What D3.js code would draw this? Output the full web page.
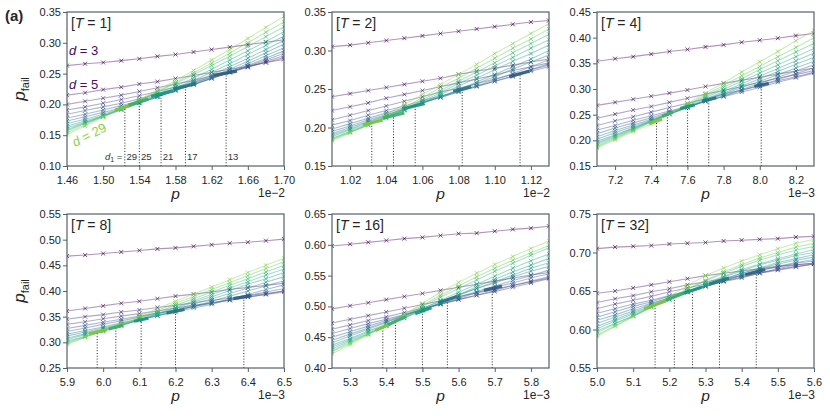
<!DOCTYPE html>
<html>
<head>
<meta charset="utf-8">
<script src="https://cdn.jsdelivr.net/npm/d3@7"></script>
<style>
  html, body { margin: 0; padding: 0; background: #fff; }
  svg { display: block; }
</style>
</head>
<body>
<svg id="chart" width="830" height="416"></svg>
<script>
// ── Data ─────────────────────────────────────────────────────────────────────
// Code distances (one curve each) and the six round counts T
const D_VALUES  = [3, 5, 7, 9, 11, 13, 15, 17, 19, 21, 23, 25, 27, 29];
const T_VALUES  = [1, 2, 4, 8, 16, 32];
const D1_VALUES = [29, 25, 21, 17, 13];

// Physical error rate p sampled per panel
const pGridT1  = [0.0146, 0.0148, 0.0150, 0.0152, 0.0154, 0.0156, 0.0158, 0.0160, 0.0162, 0.0164, 0.0166, 0.0168, 0.0170];
const pGridT2  = [0.0101, 0.0102, 0.0103, 0.0104, 0.0105, 0.0106, 0.0107, 0.0108, 0.0109, 0.0110, 0.0111, 0.0112, 0.0113];
const pGridT4  = [0.0071, 0.0072, 0.0073, 0.0074, 0.0075, 0.0076, 0.0077, 0.0078, 0.0079, 0.0080, 0.0081, 0.0082, 0.0083];
const pGridT8  = [0.00590, 0.00595, 0.00600, 0.00605, 0.00610, 0.00615, 0.00620, 0.00625, 0.00630, 0.00635, 0.00640, 0.00645, 0.00650];
const pGridT16 = [0.00525, 0.00530, 0.00535, 0.00540, 0.00545, 0.00550, 0.00555, 0.00560, 0.00565, 0.00570, 0.00575, 0.00580, 0.00585];
const pGridT32 = [0.00500, 0.00505, 0.00510, 0.00515, 0.00520, 0.00525, 0.00530, 0.00535, 0.00540, 0.00545, 0.00550, 0.00555, 0.00560];

// p_fail, one row per distance in D_VALUES order
const failT1 = [
  [.263, .266, .268, .271, .274, .278, .281, .285, .289, .293, .297, .301, .305],
  [.215, .219, .224, .228, .233, .237, .242, .247, .252, .257, .262, .268, .273],
  [.200, .205, .210, .215, .221, .227, .233, .239, .246, .253, .261, .268, .276],
  [.191, .196, .202, .208, .214, .221, .228, .236, .244, .252, .260, .270, .279],
  [.184, .190, .196, .202, .209, .217, .225, .233, .242, .252, .262, .272, .283],
  [.178, .184, .191, .198, .205, .214, .223, .232, .242, .252, .263, .275, .287],
  [.173, .180, .187, .194, .203, .212, .222, .232, .243, .254, .266, .279, .292],
  [.169, .176, .184, .193, .202, .212, .223, .234, .245, .257, .270, .284, .298],
  [.165, .173, .182, .191, .202, .212, .224, .236, .248, .261, .275, .289, .304],
  [.162, .171, .181, .192, .203, .214, .227, .239, .252, .266, .281, .296, .311],
  [.159, .170, .180, .192, .204, .217, .230, .243, .257, .272, .287, .302, .318],
  [.157, .169, .181, .193, .206, .220, .234, .248, .263, .278, .294, .310, .326],
  [.154, .167, .180, .193, .207, .221, .236, .251, .267, .283, .300, .317, .334],
  [.151, .165, .179, .193, .208, .223, .239, .255, .272, .289, .307, .325, .343]
];
const failT2 = [
  [.305, .307, .310, .313, .316, .319, .322, .325, .328, .331, .334, .337, .339],
  [.240, .244, .248, .252, .256, .260, .264, .269, .273, .277, .281, .285, .289],
  [.222, .227, .232, .238, .243, .248, .253, .258, .263, .268, .274, .279, .284],
  [.210, .216, .222, .228, .234, .240, .246, .251, .257, .263, .269, .275, .281],
  [.203, .209, .216, .222, .228, .235, .241, .247, .254, .260, .266, .273, .279],
  [.198, .205, .212, .219, .226, .233, .239, .246, .253, .260, .267, .275, .283],
  [.195, .202, .210, .217, .224, .232, .239, .247, .254, .262, .270, .279, .288],
  [.192, .200, .208, .216, .224, .232, .240, .248, .257, .266, .276, .285, .294],
  [.190, .198, .207, .215, .223, .232, .240, .249, .259, .269, .279, .289, .300],
  [.188, .197, .205, .214, .223, .232, .243, .254, .264, .275, .286, .296, .307],
  [.186, .195, .204, .213, .222, .234, .245, .257, .268, .280, .291, .303, .314],
  [.185, .194, .203, .212, .223, .236, .248, .260, .272, .284, .297, .309, .321],
  [.184, .194, .203, .214, .226, .239, .252, .264, .277, .290, .303, .315, .328],
  [.182, .193, .204, .217, .230, .243, .256, .269, .282, .296, .309, .322, .335]
];
const failT4 = [
  [.354, .359, .363, .368, .373, .377, .382, .386, .391, .395, .399, .404, .408],
  [.268, .274, .280, .286, .292, .298, .305, .311, .317, .323, .329, .335, .341],
  [.243, .251, .259, .266, .274, .282, .290, .297, .305, .313, .321, .328, .336],
  [.229, .238, .246, .255, .264, .272, .281, .290, .298, .307, .316, .324, .333],
  [.220, .229, .239, .248, .257, .266, .276, .285, .294, .303, .313, .322, .331],
  [.213, .224, .234, .244, .255, .265, .276, .286, .297, .307, .318, .330, .341],
  [.207, .219, .230, .241, .253, .264, .276, .287, .299, .311, .323, .335, .347],
  [.202, .215, .227, .239, .252, .264, .277, .290, .303, .315, .328, .341, .354],
  [.198, .211, .224, .238, .251, .264, .278, .292, .306, .320, .334, .348, .362],
  [.195, .209, .223, .237, .251, .265, .280, .295, .310, .325, .340, .355, .370],
  [.192, .207, .222, .237, .251, .267, .283, .299, .315, .331, .347, .363, .379],
  [.189, .205, .220, .236, .252, .269, .286, .303, .320, .338, .355, .372, .389],
  [.187, .203, .219, .235, .251, .270, .289, .307, .326, .344, .363, .381, .400],
  [.185, .201, .217, .232, .251, .272, .292, .312, .333, .353, .373, .394, .414]
];
const failT8 = [
  [.468, .470, .473, .476, .479, .482, .484, .487, .490, .493, .495, .498, .501],
  [.361, .366, .371, .376, .380, .385, .390, .394, .398, .403, .407, .411, .415],
  [.345, .350, .354, .359, .363, .368, .372, .377, .382, .386, .391, .395, .400],
  [.335, .340, .346, .351, .356, .361, .367, .372, .377, .382, .388, .393, .398],
  [.327, .333, .339, .345, .351, .357, .363, .370, .376, .382, .388, .394, .400],
  [.321, .328, .335, .342, .349, .356, .363, .370, .377, .384, .391, .398, .405],
  [.316, .323, .330, .338, .345, .352, .359, .367, .374, .384, .393, .403, .412],
  [.312, .320, .328, .336, .344, .352, .360, .370, .380, .390, .400, .410, .420],
  [.308, .317, .326, .334, .343, .352, .363, .374, .385, .395, .406, .417, .428],
  [.305, .315, .324, .334, .343, .355, .366, .378, .389, .401, .413, .424, .436],
  [.302, .312, .322, .332, .344, .356, .368, .381, .393, .406, .418, .431, .443],
  [.300, .311, .321, .333, .346, .359, .372, .385, .398, .411, .424, .437, .450],
  [.298, .310, .322, .335, .349, .362, .376, .389, .403, .416, .430, .444, .457],
  [.296, .310, .324, .338, .352, .366, .380, .394, .408, .422, .436, .450, .464]
];
const failT16 = [
  [.598, .601, .604, .607, .610, .612, .615, .618, .619, .622, .625, .627, .630],
  [.496, .501, .506, .511, .516, .521, .526, .531, .536, .541, .546, .551, .555],
  [.473, .479, .485, .491, .497, .503, .509, .516, .522, .528, .534, .540, .546],
  [.463, .470, .477, .483, .490, .497, .504, .511, .518, .524, .531, .538, .545],
  [.456, .464, .472, .479, .487, .495, .503, .511, .518, .526, .534, .541, .548],
  [.450, .459, .468, .477, .486, .495, .504, .513, .522, .531, .538, .546, .553],
  [.445, .455, .465, .475, .485, .495, .505, .515, .524, .533, .542, .550, .559],
  [.441, .452, .463, .474, .485, .497, .508, .519, .529, .538, .548, .557, .565],
  [.437, .448, .460, .471, .483, .494, .506, .518, .529, .540, .551, .562, .571],
  [.434, .446, .458, .469, .481, .493, .506, .519, .532, .544, .556, .567, .578],
  [.431, .444, .456, .468, .481, .496, .510, .523, .536, .549, .562, .574, .585],
  [.428, .442, .455, .469, .485, .500, .515, .529, .543, .557, .570, .583, .595],
  [.426, .440, .455, .469, .486, .502, .518, .533, .548, .562, .575, .587, .599],
  [.423, .438, .453, .469, .487, .505, .523, .539, .554, .568, .581, .594, .606]
];
const failT32 = [
  [.705, .707, .708, .709, .711, .712, .713, .715, .716, .717, .718, .720, .721],
  [.647, .650, .654, .658, .662, .666, .670, .673, .676, .679, .682, .684, .686],
  [.635, .640, .644, .649, .653, .658, .662, .666, .670, .674, .678, .682, .685],
  [.627, .633, .638, .643, .649, .654, .659, .663, .668, .673, .677, .681, .685],
  [.621, .627, .633, .638, .644, .650, .656, .662, .667, .673, .679, .684, .686],
  [.616, .623, .630, .636, .643, .650, .656, .663, .670, .677, .681, .686, .689],
  [.612, .619, .627, .634, .641, .649, .656, .663, .671, .677, .682, .687, .691],
  [.608, .616, .624, .633, .641, .649, .657, .665, .673, .679, .685, .690, .694],
  [.604, .613, .622, .631, .639, .648, .657, .666, .673, .680, .687, .692, .697],
  [.601, .611, .620, .630, .639, .649, .658, .668, .676, .684, .690, .696, .700],
  [.598, .608, .618, .629, .639, .649, .660, .669, .678, .685, .692, .698, .704],
  [.596, .607, .618, .629, .640, .652, .663, .673, .682, .690, .697, .703, .708],
  [.593, .605, .617, .629, .641, .653, .664, .675, .684, .693, .700, .707, .712],
  [.591, .604, .617, .629, .643, .657, .670, .680, .689, .697, .705, .712, .717]
];

// Crossing estimates (dotted drop lines), ordered as D1_VALUES
const crossPT1  = [0.01524, 0.01540, 0.01564, 0.01591, 0.01636];
const crossFT1  = [.194, .205, .217, .229, .250];
const crossPT2  = [0.01032, 0.01044, 0.01056, 0.01082, 0.01114];
const crossFT2  = [.206, .216, .228, .2497, .2697];
const crossPT4  = [0.007429, 0.007489, 0.007601, 0.007718, 0.008008];
const crossFT4  = [.237, .250, .265, .279, .308];
const crossPT8  = [0.0059835, 0.006035, 0.006105, 0.006200, 0.006389];
const crossFT8  = [.320, .329, .344, .360, .388];
const crossPT16 = [0.0053905, 0.0054254, 0.005500, 0.005569, 0.005693];
const crossFT16 = [.466, .4756, .4929, .5118, .5296];
const crossPT32 = [0.0051606, 0.0052138, 0.0052642, 0.0053385, 0.0054404];
const crossFT32 = [.632, .6429, .6515, .6632, .6753];

// Densely sampled stretch around each crossing: [p0, pfail0, p1, pfail1]
const fineT1  = [[0.01513, .191, 0.01535, .201], [0.01528, .199, 0.01550, .209], [0.01553, .213, 0.01577, .222], [0.01578, .225, 0.01603, .234], [0.01622, .247, 0.01648, .254]];
const fineT2  = [[0.01027, .2035, 0.01038, .2095], [0.01038, .212, 0.01050, .219], [0.01049, .224, 0.01061, .231], [0.01077, .247, 0.01087, .253], [0.01108, .266, 0.01119, .273]];
const fineT4  = [[0.00739, .233, 0.00746, .241], [0.00746, .247, 0.00752, .255], [0.00756, .262, 0.00764, .269], [0.00768, .276, 0.00776, .283], [0.00797, .305, 0.00805, .311]];
const fineT8  = [[0.00596, .317, 0.00601, .324], [0.006015, .326, 0.006055, .333], [0.006085, .341, 0.006125, .347], [0.006175, .357, 0.006225, .364], [0.00636, .385, 0.00641, .391]];
const fineT16 = [[0.00537, .461, 0.00541, .471], [0.005405, .470, 0.005445, .481], [0.00548, .488, 0.005525, .498], [0.005545, .506, 0.005595, .516], [0.00567, .526, 0.00572, .533]];
const fineT32 = [[0.00513, .627, 0.00519, .637], [0.00519, .638, 0.00524, .647], [0.00524, .647, 0.00529, .655], [0.00531, .659, 0.005365, .667], [0.00541, .671, 0.005465, .678]];

// Axis limits and tick labels
const xLimits = [[0.0146, 0.0170], [0.0101, 0.0113], [0.0071, 0.0083], [0.0059, 0.0065], [0.00525, 0.00585], [0.0050, 0.0056]];
const yLimits = [[0.10, 0.35], [0.15, 0.35], [0.15, 0.45], [0.25, 0.55], [0.40, 0.65], [0.55, 0.75]];
const xTicksT1  = [0.0146, 0.0150, 0.0154, 0.0158, 0.0162, 0.0166, 0.0170];
const xTicksT2  = [0.0102, 0.0104, 0.0106, 0.0108, 0.0110, 0.0112];
const xTicksT4  = [0.0072, 0.0074, 0.0076, 0.0078, 0.0080, 0.0082];
const xTicksT8  = [0.0059, 0.0060, 0.0061, 0.0062, 0.0063, 0.0064, 0.0065];
const xTicksT16 = [0.0053, 0.0054, 0.0055, 0.0056, 0.0057, 0.0058];
const xTicksT32 = [0.0050, 0.0051, 0.0052, 0.0053, 0.0054, 0.0055, 0.0056];
const yTicksT1  = [0.10, 0.15, 0.20, 0.25, 0.30, 0.35];
const yTicksT2  = [0.15, 0.20, 0.25, 0.30, 0.35];
const yTicksT4  = [0.15, 0.20, 0.25, 0.30, 0.35, 0.40, 0.45];
const yTicksT8  = [0.25, 0.30, 0.35, 0.40, 0.45, 0.50, 0.55];
const yTicksT16 = [0.40, 0.45, 0.50, 0.55, 0.60, 0.65];
const yTicksT32 = [0.55, 0.60, 0.65, 0.70, 0.75];
const xUnits    = [1e-2, 1e-2, 1e-3, 1e-3, 1e-3, 1e-3];
const xDecimals = [2, 2, 1, 1, 1, 1];
const offsetLabels = ["1e\u22122", "1e\u22122", "1e\u22123", "1e\u22123", "1e\u22123", "1e\u22123"];

(function () {
  "use strict";

  // ── Layout ──────────────────────────────────────────────────────────────────
  const COL_X  = [67, 332, 597];
  const ROW_Y  = [12, 214];
  const PW     = 217;
  const PH     = 154;
  const FONT   = "'Liberation Sans', Arial, Helvetica, sans-serif";
  const AXIS_C = "#56606b";
  const TEXT_C = "#262626";

  const color = d => d3.interpolateViridis((d - 3) / 26 * 0.82);

  const panels = T_VALUES.map((t, k) => ({
    t,
    grid:   [pGridT1, pGridT2, pGridT4, pGridT8, pGridT16, pGridT32][k],
    fail:   [failT1, failT2, failT4, failT8, failT16, failT32][k],
    crossP: [crossPT1, crossPT2, crossPT4, crossPT8, crossPT16, crossPT32][k],
    crossF: [crossFT1, crossFT2, crossFT4, crossFT8, crossFT16, crossFT32][k],
    fine:   [fineT1, fineT2, fineT4, fineT8, fineT16, fineT32][k],
    xTicks: [xTicksT1, xTicksT2, xTicksT4, xTicksT8, xTicksT16, xTicksT32][k],
    yTicks: [yTicksT1, yTicksT2, yTicksT4, yTicksT8, yTicksT16, yTicksT32][k],
    xLim: xLimits[k], yLim: yLimits[k],
    unit: xUnits[k], dec: xDecimals[k], offset: offsetLabels[k]
  }));

  const svg = d3.select("#chart").attr("font-family", FONT);
  const defs = svg.append("defs");

  // ── Panels ──────────────────────────────────────────────────────────────────
  panels.forEach((pn, k) => {
    const ox = COL_X[k % 3];
    const oy = ROW_Y[Math.floor(k / 3)];

    const x = d3.scaleLinear().domain(pn.xLim).range([0, PW]);
    const y = d3.scaleLinear().domain(pn.yLim).range([PH, 0]);

    const g = svg.append("g").attr("transform", `translate(${ox},${oy})`);

    defs.append("clipPath").attr("id", `clip${k}`)
      .append("rect").attr("width", PW).attr("height", PH);

    const plot = g.append("g").attr("clip-path", `url(#clip${k})`);

    const line = d3.line()
      .x((v, i) => x(pn.grid[i]))
      .y(v => y(v));

    // curves, small distance first so greens sit on top
    pn.fail.forEach((series, j) => {
      const c = color(D_VALUES[j]);
      plot.append("path")
        .datum(series)
        .attr("d", line)
        .attr("fill", "none")
        .attr("stroke", c)
        .attr("stroke-opacity", 0.42)
        .attr("stroke-width", 1.1);

      plot.selectAll(null)
        .data(series)
        .join("path")
        .attr("transform", (v, i) => `translate(${x(pn.grid[i])},${y(v)})`)
        .attr("d", "M-2,-2L2,2M-2,2L2,-2")
        .attr("stroke", c)
        .attr("stroke-opacity", 0.7)
        .attr("stroke-width", 1);
    });

    // dotted drop lines at the crossings
    plot.selectAll(null)
      .data(pn.crossP)
      .join("line")
      .attr("x1", p => x(p)).attr("x2", p => x(p))
      .attr("y1", PH)
      .attr("y2", (p, i) => y(pn.crossF[i]))
      .attr("stroke", "#222")
      .attr("stroke-width", 1)
      .attr("stroke-dasharray", "1,1.8");

    // fine-sampled stretches around each crossing
    plot.selectAll(null)
      .data(pn.fine)
      .join("line")
      .attr("x1", s => x(s[0])).attr("y1", s => y(s[1]))
      .attr("x2", s => x(s[2])).attr("y2", s => y(s[3]))
      .attr("stroke", (s, i) => d3.color(color(D1_VALUES[i])).darker(0.25))
      .attr("stroke-width", 3.2)
      .attr("stroke-opacity", 0.9);

    // ── Axes ────────────────────────────────────────────────────────────────
    const gx = g.append("g")
      .attr("transform", `translate(0,${PH})`)
      .call(d3.axisBottom(x)
        .tickValues(pn.xTicks)
        .tickFormat(v => (v / pn.unit).toFixed(pn.dec))
        .tickSize(4)
        .tickPadding(6));

    const gy = g.append("g")
      .call(d3.axisLeft(y)
        .tickValues(pn.yTicks)
        .tickFormat(d3.format(".2f"))
        .tickSize(4)
        .tickPadding(2));

    [gx, gy].forEach(ax => {
      ax.attr("font-family", FONT);
      ax.select(".domain").remove();
      ax.selectAll(".tick line").attr("stroke", AXIS_C).attr("stroke-width", 1);
      ax.selectAll(".tick text").attr("fill", TEXT_C).attr("font-size", 11);
    });

    g.append("rect")
      .attr("width", PW).attr("height", PH)
      .attr("fill", "none")
      .attr("stroke", AXIS_C)
      .attr("stroke-width", 1.2);

    // x label and offset text
    g.append("text")
      .attr("x", PW / 2).attr("y", PH + 33)
      .attr("text-anchor", "middle")
      .attr("font-size", 15.5).attr("font-style", "italic")
      .attr("fill", TEXT_C)
      .text("p");

    g.append("text")
      .attr("x", PW + 1).attr("y", PH + 31)
      .attr("text-anchor", "end")
      .attr("font-size", 12)
      .attr("fill", TEXT_C)
      .text(pn.offset);

    // [T = ...] tag
    const tag = g.append("text")
      .attr("x", 4).attr("y", 16)
      .attr("font-size", 14)
      .attr("fill", TEXT_C);
    tag.append("tspan").text("[");
    tag.append("tspan").attr("font-style", "italic").text("T");
    tag.append("tspan").text(` = ${pn.t}]`);

    // y label on the left column
    if (k % 3 === 0) {
      const yl = svg.append("text")
        .attr("transform", `translate(${ox - 42},${oy + PH / 2}) rotate(-90)`)
        .attr("text-anchor", "middle")
        .attr("fill", TEXT_C);
      yl.append("tspan").attr("font-size", 17).attr("font-style", "italic").text("p");
      yl.append("tspan").attr("font-size", 11).attr("dy", 4).text("fail");
    }

    // ── Annotations (first panel only) ─────────────────────────────────────
    if (k === 0) {
      const dLabel = (tx, ty, val, fill, rot) => {
        const t = g.append("text")
          .attr("transform", `translate(${tx},${ty}) rotate(${rot})`)
          .attr("font-size", 13)
          .attr("fill", fill);
        t.append("tspan").attr("font-style", "italic").text("d");
        t.append("tspan").text(` = ${val}`);
      };
      dLabel(2, 43, D_VALUES[0], d3.interpolateViridis(0.03), 0);
      dLabel(2, 77, D_VALUES[1], d3.interpolateViridis(0.05), 0);
      dLabel(8, 135, D_VALUES[13], color(29), -27);

      const lx = x(pn.crossP[0]);
      const d1 = g.append("text")
        .attr("x", lx - 2.5).attr("y", 148)
        .attr("text-anchor", "end")
        .attr("font-size", 9.5)
        .attr("fill", "#333");
      d1.append("tspan").attr("font-style", "italic").text("d");
      d1.append("tspan").attr("font-size", 7).attr("dy", 2).text("1");
      d1.append("tspan").attr("dy", -2).text(" =");

      g.selectAll(null)
        .data(D1_VALUES)
        .join("text")
        .attr("x", (v, i) => x(pn.crossP[i]) + 1.6)
        .attr("y", 148)
        .attr("font-size", 9.5)
        .attr("fill", "#333")
        .text(v => v);
    }
  });

  // panel letter
  svg.append("text")
    .attr("x", 5).attr("y", 21)
    .attr("font-size", 15).attr("font-weight", "bold")
    .attr("fill", TEXT_C)
    .text("(a)");
})();
</script>
</body>
</html>
